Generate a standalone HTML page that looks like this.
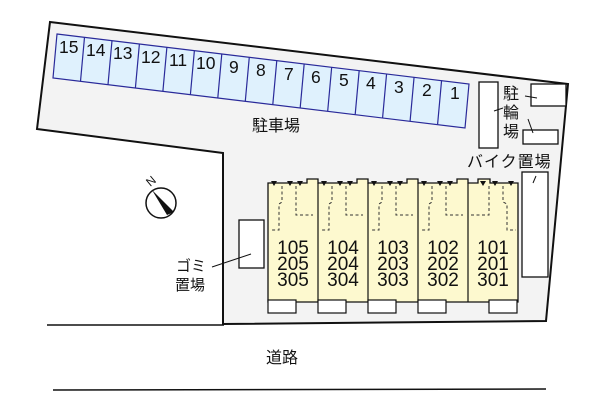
<!DOCTYPE html>
<html><head><meta charset="utf-8"><style>
html,body{margin:0;padding:0;background:#fff;}
svg{display:block;}
text{font-family:"Liberation Sans","Noto Sans CJK JP",sans-serif;fill:#111;}
</style></head><body>
<svg width="600" height="400" viewBox="0 0 600 400" xmlns="http://www.w3.org/2000/svg">
<polygon points="50,22 568,84 546,321 223,324 223,153 37,129" fill="#f3f3f3" stroke="#111" stroke-width="2"/>
<line x1="47" y1="325" x2="224" y2="325" stroke="#111" stroke-width="1.5"/>
<line x1="53" y1="390" x2="546" y2="389" stroke="#111" stroke-width="1.5"/>
<g fill="#dff1fd" stroke="#2a2a9a" stroke-width="1.2">
<polygon points="57,34 469,84 465,128 53,78"/>
</g>
<g stroke="#2a2a9a" stroke-width="1.2">
<line x1="84.5" y1="37.3" x2="80.5" y2="81.3"/><line x1="112" y1="40.6" x2="108" y2="84.6"/>
<line x1="139.4" y1="43.9" x2="135.4" y2="87.9"/><line x1="166.9" y1="47.2" x2="162.9" y2="91.2"/>
<line x1="194.4" y1="50.5" x2="190.4" y2="94.5"/><line x1="221.8" y1="53.8" x2="217.8" y2="97.8"/>
<line x1="249.3" y1="57.1" x2="245.3" y2="101.1"/><line x1="276.8" y1="60.4" x2="272.8" y2="104.4"/>
<line x1="304.2" y1="63.7" x2="300.2" y2="107.7"/><line x1="331.7" y1="67" x2="327.7" y2="111"/>
<line x1="359.2" y1="70.3" x2="355.2" y2="114.3"/><line x1="386.6" y1="73.6" x2="382.6" y2="117.6"/>
<line x1="414.1" y1="76.9" x2="410.1" y2="120.9"/><line x1="441.6" y1="80.2" x2="437.6" y2="124.2"/>
</g>
<g font-size="17.5">
<text x="59" y="53">15</text><text x="86" y="56">14</text><text x="113" y="59">13</text><text x="141" y="63">12</text><text x="169" y="66">11</text><text x="196" y="69">10</text>
<text x="229" y="73">9</text><text x="256" y="76">8</text><text x="284" y="80">7</text><text x="311" y="83">6</text><text x="339" y="86">5</text><text x="366" y="89">4</text><text x="394" y="93">3</text><text x="422" y="96">2</text><text x="450" y="99">1</text>
</g>
<text x="252" y="131" font-size="16">駐車場</text>
<rect x="479" y="82" width="19" height="66" fill="#fff" stroke="#111" stroke-width="1.3"/>
<line x1="494" y1="111" x2="503" y2="108" stroke="#111"/>
<rect x="531" y="84" width="35" height="22" fill="#fff" stroke="#111" stroke-width="1.3"/>
<line x1="525" y1="96" x2="537" y2="98" stroke="#111"/>
<rect x="523" y="130" width="35" height="14" fill="#fff" stroke="#111" stroke-width="1.3"/>
<line x1="528" y1="119" x2="533" y2="133" stroke="#111"/>
<text x="503" y="99" font-size="16">駐</text><text x="503" y="118" font-size="16">輪</text><text x="503" y="137" font-size="16">場</text>
<text x="467" y="167" font-size="16" letter-spacing="1">バイク置場</text>
<rect x="522" y="172" width="26" height="105" fill="#fff" stroke="#111" stroke-width="1.3"/>
<line x1="536" y1="176" x2="533" y2="183" stroke="#111"/>
<rect x="239" y="220" width="25" height="48" fill="#fff" stroke="#111" stroke-width="1.3"/>
<line x1="212" y1="267" x2="251" y2="254" stroke="#111"/>
<text x="176" y="271" font-size="15">ゴミ</text><text x="175" y="290" font-size="15">置場</text>
<circle cx="161" cy="203" r="15" fill="#fff" stroke="#111" stroke-width="1.5"/>
<polygon points="152,190 174,212 167,215" fill="#111"/>
<text x="147" y="186" font-size="12" transform="rotate(-40 150 182)">N</text>
<g stroke="#111" stroke-width="1.3" fill="#fdf9cf">
<path d="M268,183 H307 V179 H318 V183 H357 V179 H368 V183 H407 V179 H418 V183 H457 V179 H468 V183 H478 V179 H490 V183 H518 V302 H268 Z"/>
</g>
<g stroke="#111" stroke-width="1.2">
<line x1="318" y1="183" x2="318" y2="302"/><line x1="368" y1="183" x2="368" y2="302"/><line x1="418" y1="183" x2="418" y2="302"/><line x1="468" y1="183" x2="468" y2="302"/>
</g>
<g fill="#fff" stroke="#111" stroke-width="1.2">
<rect x="268" y="300" width="28" height="13"/><rect x="318" y="300" width="28" height="13"/><rect x="368" y="300" width="28" height="13"/><rect x="418" y="300" width="28" height="13"/><rect x="489" y="300" width="28" height="13"/>
</g>
<g stroke="#333" stroke-width="1" fill="none" stroke-dasharray="3,2.5">
<path d="M282,186 V202 L279,204 V230 H270"/><path d="M296,186 V215 H313"/>
<path d="M332,186 V202 L329,204 V230 H320"/><path d="M346,186 V215 H363"/>
<path d="M382,186 V202 L379,204 V230 H370"/><path d="M396,186 V215 H413"/>
<path d="M432,186 V202 L429,204 V230 H420"/><path d="M446,186 V215 H463"/>
<path d="M489,186 V215 H470"/><path d="M503,186 V202 L507,204 V230 H516"/>
</g>
<g fill="#111">
<polygon points="271,181 277,181 274,186"/><polygon points="287,181 293,181 290,186"/><polygon points="297,181 303,181 300,186"/>
<polygon points="321,181 327,181 324,186"/><polygon points="337,181 343,181 340,186"/><polygon points="347,181 353,181 350,186"/>
<polygon points="371,181 377,181 374,186"/><polygon points="387,181 393,181 390,186"/><polygon points="397,181 403,181 400,186"/>
<polygon points="421,181 427,181 424,186"/><polygon points="437,181 443,181 440,186"/><polygon points="447,181 453,181 450,186"/>
<polygon points="480,181 486,181 483,186"/><polygon points="492,181 498,181 495,186"/><polygon points="508,181 514,181 511,186"/>
</g>
<g font-size="19" text-anchor="middle">
<text x="293" y="254">105</text><text x="293" y="270">205</text><text x="293" y="286">305</text>
<text x="343" y="254">104</text><text x="343" y="270">204</text><text x="343" y="286">304</text>
<text x="393" y="254">103</text><text x="393" y="270">203</text><text x="393" y="286">303</text>
<text x="443" y="254">102</text><text x="443" y="270">202</text><text x="443" y="286">302</text>
<text x="493" y="254">101</text><text x="493" y="270">201</text><text x="493" y="286">301</text>
</g>
<text x="266" y="363" font-size="16">道路</text>
</svg>
</body></html>
